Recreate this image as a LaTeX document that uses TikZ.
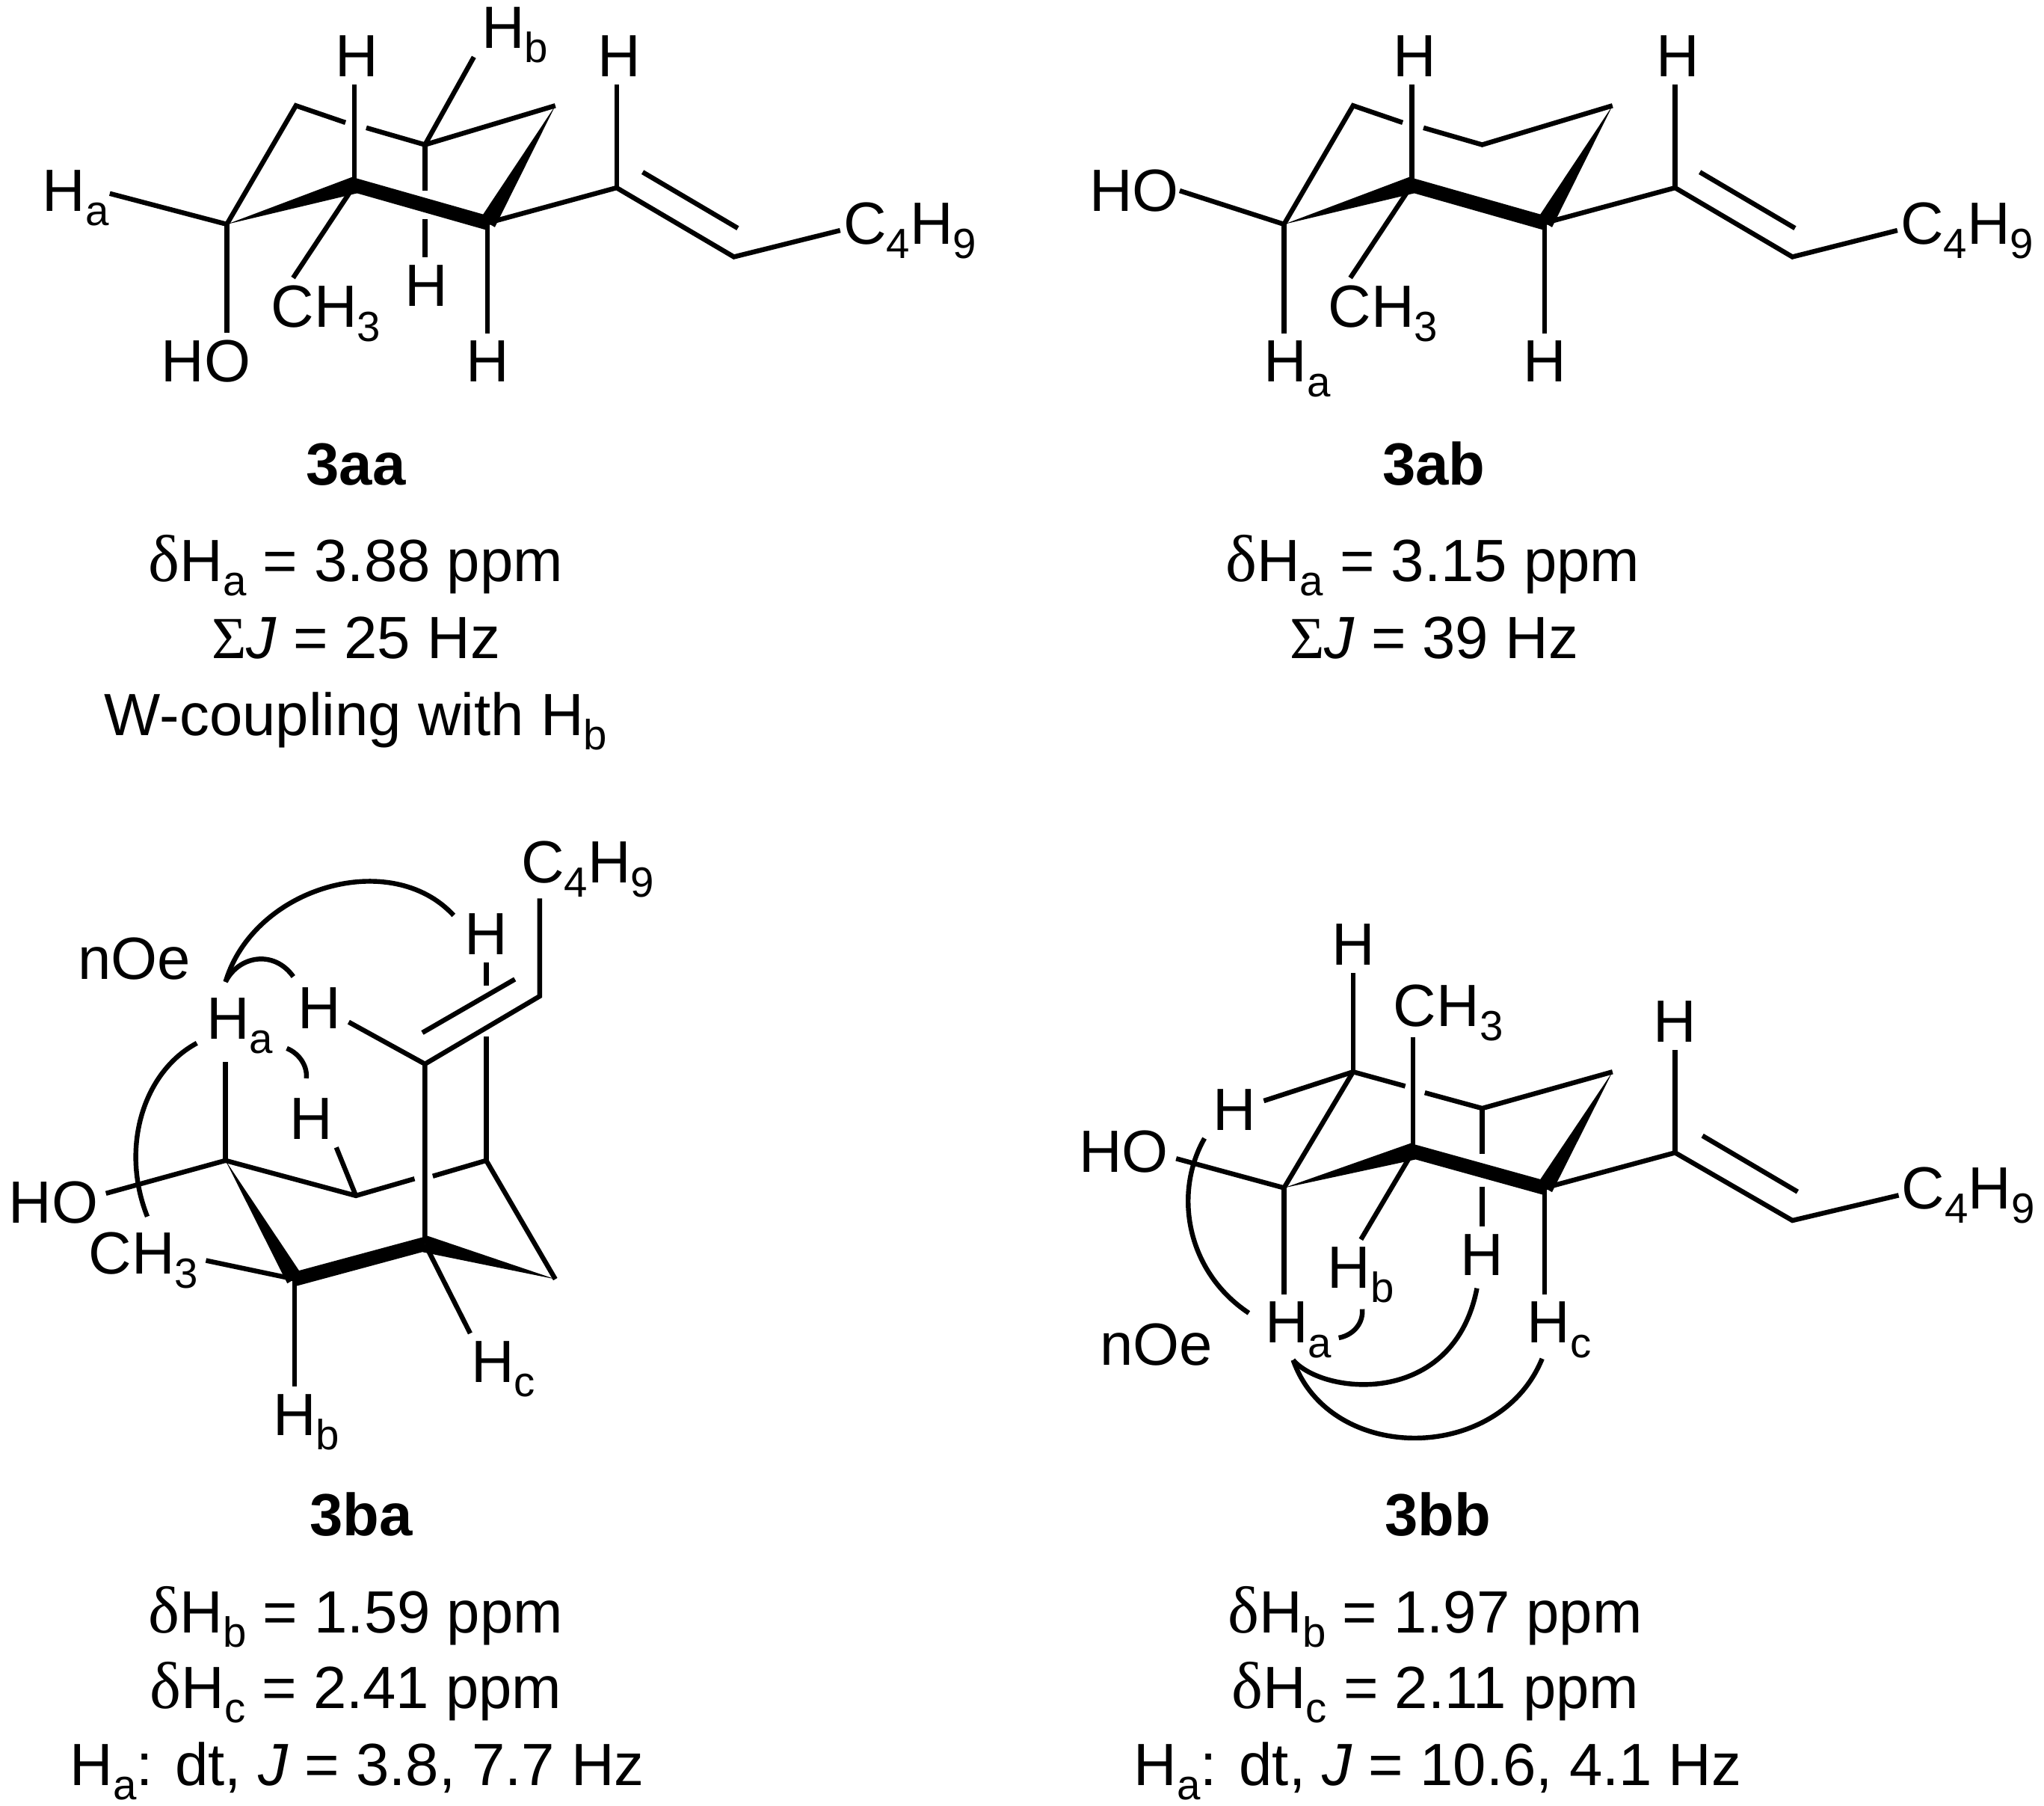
\documentclass[tikz,border=0pt]{standalone}
\usepackage{fontspec}
\setmainfont{Liberation Sans}
\newfontfamily\symb{Liberation Serif}
\usetikzlibrary{calc}
\newcommand{\lo}[1]{\raisebox{-.24em}{\fontsize{9.2}{9}\selectfont #1}}
\newcommand{\dlt}{{\symb\fontsize{14.5}{15}\selectfont δ}}
\newcommand{\wedgebond}[2]{\fill (#1) -- ($(#2)!.065cm!90:(#1)$) -- ($(#2)!.065cm!-90:(#1)$) -- cycle;}
\tikzset{
  lab/.style={anchor=base,inner sep=1.5pt,font=\fontsize{13}{15}\selectfont},
  note/.style={anchor=base,inner sep=0pt,font=\fontsize{13}{15}\selectfont},
  molname/.style={anchor=base,inner sep=0pt,font=\fontsize{13}{15}\selectfont\bfseries},
  bond/.style={line width=1.05pt},
  boldbond/.style={line width=3.1pt},
  noe/.style={line width=1.05pt}
}
\begin{document}
\begin{tikzpicture}[x=.01cm,y=-.01cm]
\useasboundingbox (0,0) rectangle (1568,1384.5);

% 3aa
\coordinate (aa1) at (174,172);
\coordinate (aa2) at (272,142);
\coordinate (aa3) at (374,171);
\coordinate (aa4) at (426,81);
\coordinate (aa5) at (326,111);
\coordinate (aa6) at (227,81);
\coordinate (aa7) at (473,144);
\coordinate (aa8) at (563,197);
\coordinate (aagapa) at (265,94);
\coordinate (aagapb) at (281,98);
\coordinate (aagapc) at (326,146);
\coordinate (aagapd) at (326,168);
\coordinate (aadba) at (493,132);
\coordinate (aadbb) at (566,175);
\node[lab] (aaha) at (58,162) {H\lo{a}};
\node[lab] (aahb) at (395,37) {H\lo{b}};
\node[lab] (aah1) at (274,59) {H};
\node[lab] (aah2) at (327,235) {H};
\node[lab] (aah3) at (374,293) {H};
\node[lab] (aah4) at (475,59) {H};
\node[lab] (aaho) at (158,293) {HO};
\node[lab] (aach) at (250,251) {CH\lo{3}};
\node[lab] (aabu) at (698,187) {C\lo{4}H\lo{9}};
\draw[bond] (aa1) -- (aa6) -- (aagapa);
\draw[bond] (aagapb) -- (aa5) -- (aa4);
\wedgebond{aa1}{aa2}
\wedgebond{aa4}{aa3}
\draw[boldbond] (aa2) -- (aa3);
\draw[bond] (aa1) -- ([xshift=-1.5pt,yshift=1pt]aaha.east);
\draw[bond] (aa1) -- (aa1 |- aaho.north);
\draw[bond] (aa2) -- (aa2 |- aah1.south);
\draw[bond] (aa2) -- ([xshift=6.5pt]aach.north west);
\draw[bond] (aa3) -- (aa3 |- aah3.north);
\draw[bond] (aa5) -- ([yshift=3pt]aahb.south west);
\draw[bond] (aa5) -- (aagapc);
\draw[bond] (aagapd) -- (aagapd |- aah2.north);
\draw[bond] (aa3) -- (aa7) -- (aa8) -- ([xshift=1pt]aabu.west);
\draw[bond] (aa7) -- (aa7 |- aah4.south);
\draw[bond] (aadba) -- (aadbb);
\node[molname] (aaname) at (273,372) {3aa};
\node[note] (aaa) at (273,446) {\dlt H\lo{a} = 3.88 ppm};
\node[note] (aab) at (273,505) {{\symb Σ}\textit{J} = 25 Hz};
\node[note] (aac) at (273,564) {W-coupling with H\lo{b}};

% 3ab
\coordinate (ab1) at (985,172);
\coordinate (ab2) at (1083,142);
\coordinate (ab3) at (1185,171);
\coordinate (ab4) at (1237,81);
\coordinate (ab5) at (1137,111);
\coordinate (ab6) at (1038,81);
\coordinate (ab7) at (1285,144);
\coordinate (ab8) at (1375,197);
\coordinate (abgapa) at (1076,94);
\coordinate (abgapb) at (1092,98);
\coordinate (abdba) at (1304,132);
\coordinate (abdbb) at (1377,175);
\node[lab] (abha) at (995,293) {H\lo{a}};
\node[lab] (abh1) at (1085,59) {H};
\node[lab] (abh3) at (1185,293) {H};
\node[lab] (abh4) at (1287,59) {H};
\node[lab] (abho) at (870,162) {HO};
\node[lab] (abch) at (1061,251) {CH\lo{3}};
\node[lab] (abbu) at (1509,187) {C\lo{4}H\lo{9}};
\draw[bond] (ab1) -- (ab6) -- (abgapa);
\draw[bond] (abgapb) -- (ab5) -- (ab4);
\wedgebond{ab1}{ab2}
\wedgebond{ab4}{ab3}
\draw[boldbond] (ab2) -- (ab3);
\draw[bond] (ab1) -- ([xshift=-1.5pt]abho.east);
\draw[bond] (ab1) -- (ab1 |- abha.north);
\draw[bond] (ab2) -- (ab2 |- abh1.south);
\draw[bond] (ab2) -- ([xshift=6.5pt]abch.north west);
\draw[bond] (ab3) -- (ab3 |- abh3.north);
\draw[bond] (ab3) -- (ab7) -- (ab8) -- ([xshift=1pt]abbu.west);
\draw[bond] (ab7) -- (ab7 |- abh4.south);
\draw[bond] (abdba) -- (abdbb);
\node[molname] (abname) at (1100,372) {3ab};
\node[note] (aba) at (1099,446) {\dlt H\lo{a} = 3.15 ppm};
\node[note] (abb) at (1100,505) {{\symb Σ}\textit{J} = 39 Hz};

% 3ba
\coordinate (ba1) at (173,890);
\coordinate (ba2) at (226,981);
\coordinate (ba3) at (326,954);
\coordinate (ba4) at (426,981);
\coordinate (ba5) at (373,890);
\coordinate (ba6) at (273,917);
\coordinate (ba7) at (326,816);
\coordinate (ba8) at (414,764);
\coordinate (bagapa) at (318,904);
\coordinate (bagapb) at (332,902);
\coordinate (bagapc) at (373,795);
\coordinate (bagapd) at (373,756);
\coordinate (badba) at (324,792);
\coordinate (badbb) at (395,751);
\node[lab] (baha) at (184,797) {H\lo{a}};
\node[lab] (bahb) at (235,1101) {H\lo{b}};
\node[lab] (bahc) at (386,1060) {H\lo{c}};
\node[lab] (bah1) at (239,874) {H};
\node[lab] (bah2) at (245,789) {H};
\node[lab] (bah3) at (373,732) {H};
\node[lab] (baho) at (41,938) {HO};
\node[lab] (bach) at (110,977) {CH\lo{3}};
\node[lab] (babu) at (451,677) {C\lo{4}H\lo{9}};
\node[note] (banoe) at (103,751) {nOe};
\draw[bond] (ba1) -- (ba6) -- (bagapa);
\draw[bond] (bagapb) -- (ba5) -- (ba4);
\wedgebond{ba1}{ba2}
\wedgebond{ba4}{ba3}
\draw[boldbond] (ba2) -- (ba3);
\draw[bond] (ba1) -- ([yshift=2pt]baho.east);
\draw[bond] (ba1) -- (ba1 |- baha.south);
\draw[bond] (ba2) -- (bach.east);
\draw[bond] (ba2) -- (ba2 |- bahb.north);
\draw[bond] (ba6) -- ([xshift=-1pt]bah1.south east);
\draw[bond] (ba3) -- ([xshift=1.5pt]bahc.north west);
\draw[bond] (ba3) -- (ba7) -- (ba8) -- ([yshift=1.5pt]ba8 |- babu.south);
\draw[bond] (ba7) -- ([yshift=-3pt]bah2.east);
\draw[bond] (ba5) -- (bagapc);
\draw[bond] (bagapd) -- (bagapd |- bah3.south);
\draw[bond] (badba) -- (badbb);
\draw[noe] (173,753) .. controls (195,680) and (300,650) .. (348,702);
\draw[noe] (173,753) .. controls (183,733) and (210,728) .. (225,749);
\draw[noe] (151,800) .. controls (110,822) and (92,880) .. (113,933);
\draw[noe] (220,804) .. controls (230,808) and (236,818) .. (235,827);
\node[molname] (baname) at (277,1178) {3ba};
\node[note] (baa) at (273,1252) {\dlt H\lo{b} = 1.59 ppm};
\node[note] (bab) at (273,1310) {\dlt H\lo{c} = 2.41 ppm};
\node[note] (bac) at (274,1369) {H\lo{a}: dt, \textit{J} = 3.8, 7.7 Hz};

% 3bb
\coordinate (bb1) at (985,911);
\coordinate (bb2) at (1084,883);
\coordinate (bb3) at (1185,911);
\coordinate (bb4) at (1237,822);
\coordinate (bb5) at (1137,850);
\coordinate (bb6) at (1038,822);
\coordinate (bb7) at (1285,884);
\coordinate (bb8) at (1375,936);
\coordinate (bbgapa) at (1078,833);
\coordinate (bbgapb) at (1093,838);
\coordinate (bbgapc) at (1137,885);
\coordinate (bbgapd) at (1137,910);
\coordinate (bbdba) at (1306,871);
\coordinate (bbdbb) at (1379,914);
\node[lab] (bbha) at (996,1030) {H\lo{a}};
\node[lab] (bbhb) at (1044,988) {H\lo{b}};
\node[lab] (bbhc) at (1196,1030) {H\lo{c}};
\node[lab] (bbh1) at (1038,740) {H};
\node[lab] (bbh2) at (947,867) {H};
\node[lab] (bbh3) at (1137,978) {H};
\node[lab] (bbh4) at (1285,799) {H};
\node[lab] (bbho) at (862,899) {HO};
\node[lab] (bbch) at (1111,787) {CH\lo{3}};
\node[lab] (bbbu) at (1510,927) {C\lo{4}H\lo{9}};
\node[note] (bbnoe) at (887,1047) {nOe};
\draw[bond] (bb1) -- (bb6) -- (bbgapa);
\draw[bond] (bbgapb) -- (bb5) -- (bb4);
\wedgebond{bb1}{bb2}
\wedgebond{bb4}{bb3}
\draw[boldbond] (bb2) -- (bb3);
\draw[bond] (bb1) -- ([yshift=-1.5pt]bbho.east);
\draw[bond] (bb1) -- (bb1 |- bbha.north);
\draw[bond] (bb6) -- (bb6 |- bbh1.south);
\draw[bond] (bb6) -- ([yshift=2pt]bbh2.east);
\draw[bond] (bb2) -- ([yshift=2.5pt]bb2 |- bbch.south);
\draw[bond] (bb2) -- (bbhb.north);
\draw[bond] (bb5) -- (bbgapc);
\draw[bond] (bbgapd) -- (bbgapd |- bbh3.north);
\draw[bond] (bb3) -- (bb3 |- bbhc.north);
\draw[bond] (bb3) -- (bb7) -- (bb8) -- ([xshift=1pt]bbbu.west);
\draw[bond] (bb7) -- (bb7 |- bbh4.south);
\draw[bond] (bbdba) -- (bbdbb);
\draw[noe] (924,873) .. controls (900,915) and (910,975) .. (958,1007);
\draw[noe] (1045,1004) .. controls (1046,1015) and (1038,1024) .. (1027,1026);
\draw[noe] (992,1043) .. controls (1015,1070) and (1115,1080) .. (1133,988);
\draw[noe] (992,1043) .. controls (1020,1123) and (1150,1123) .. (1183,1042);
\node[molname] (bbname) at (1103,1178) {3bb};
\node[note] (bba) at (1101,1252) {\dlt H\lo{b} = 1.97 ppm};
\node[note] (bbb) at (1101,1310) {\dlt H\lo{c} = 2.11 ppm};
\node[note] (bbc) at (1103,1369) {H\lo{a}: dt, \textit{J} = 10.6, 4.1 Hz};
\end{tikzpicture}
\end{document}
